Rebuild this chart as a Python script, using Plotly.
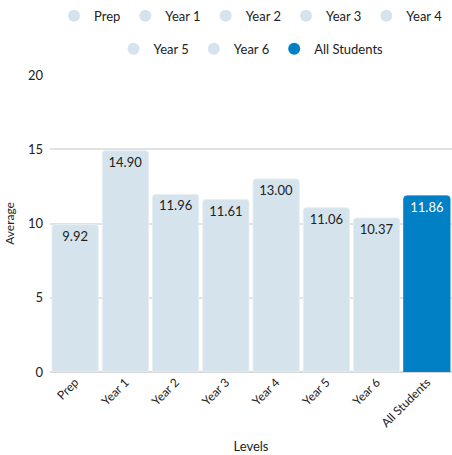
import plotly.graph_objects as go

levels = ["Prep", "Year 1", "Year 2", "Year 3", "Year 4", "Year 5", "Year 6", "All Students"]
averages = [9.92, 14.90, 11.96, 11.61, 13.00, 11.06, 10.37, 11.86]
light = "#d5e3ed"
dark = "#0180c6"
colors = [light] * 7 + [dark]
text_colors = ["#222222"] * 7 + ["white"]

fig = go.Figure()
for i, (lvl, val) in enumerate(zip(levels, averages)):
    fig.add_trace(go.Bar(
        x=[lvl], y=[val], name=lvl, showlegend=False,
        marker=dict(color=colors[i], line=dict(color="#e8eef3" if i < 7 else dark, width=1)),
        text=[f"{val:.2f}"], textposition="inside", insidetextanchor="end",
        textfont=dict(color=text_colors[i], size=13), textangle=0,
        hoverinfo="skip",
    ))
    fig.add_trace(go.Scatter(
        x=[None], y=[None], mode="markers", name=lvl,
        marker=dict(symbol="circle", size=15, color=colors[i]),
        legend="legend" if i < 5 else "legend2",
    ))

fig.update_layout(
    width=452, height=455,
    margin=dict(l=50, r=0, t=75, b=83, autoexpand=False),
    font=dict(family="Lato", size=13, color="#222222"),
    plot_bgcolor="white", paper_bgcolor="white",
    barmode="overlay", bargap=0.08, barcornerradius=3,
    uniformtext=dict(minsize=12, mode="show"),
    legend=dict(orientation="h", x=0.5, xanchor="center", y=1.199, yanchor="middle",
                font=dict(size=13), itemsizing="constant"),
    legend2=dict(orientation="h", x=0.5, xanchor="center", y=1.088, yanchor="middle",
                 font=dict(size=13), itemsizing="constant"),
    xaxis=dict(title=dict(text="Levels", standoff=12, font=dict(size=13)), tickangle=-45,
               showgrid=False, showline=False, ticks="", tickfont=dict(size=12),
               categoryorder="array", categoryarray=levels),
    yaxis=dict(title=dict(text="Average", standoff=10, font=dict(size=12)), range=[0, 20], dtick=5,
               showgrid=True, gridcolor="#e2e2e2", gridwidth=1.5,
               zeroline=True, zerolinecolor="#d8d8d8", zerolinewidth=1.5,
               showline=False, ticks="", fixedrange=True, tickfont=dict(size=13),
               ticklabelstandoff=6),
)
fig.write_html("out.html")
